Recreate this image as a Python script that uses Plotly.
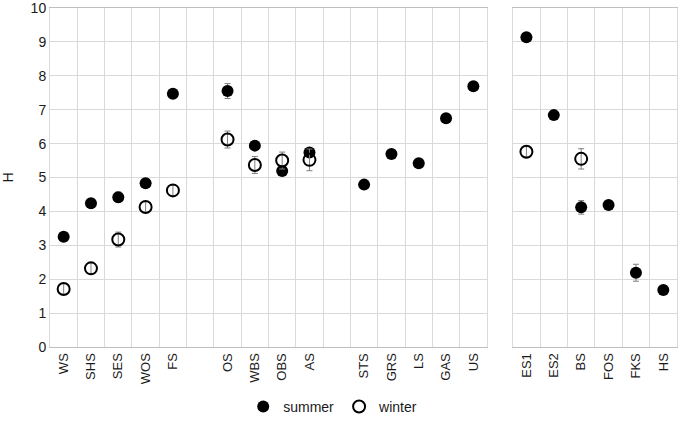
import plotly.graph_objects as go

# left panel sites (blank slots keep the gaps between groups)
left_sites = ["WS", "SHS", "SES", "WOS", "FS", " ", "OS", "WBS", "OBS", "AS", "  ",
              "STS", "GRS", "LS", "GAS", "US"]
left_summer = [3.25, 4.24, 4.42, 4.83, 7.47, None, 7.55, 5.94, 5.19, 5.74, None,
               4.79, 5.69, 5.42, 6.75, 7.69]
left_summer_err = [0.1, 0.12, 0.15, 0.12, 0.1, None, 0.22, 0.1, 0.1, 0.1, None,
                   0.1, 0.1, 0.1, 0.1, 0.1]
left_winter = [1.71, 2.32, 3.17, 4.13, 4.62, None, 6.12, 5.37, 5.5, 5.52, None,
               None, None, None, None, None]
left_winter_err = [0.15, 0.15, 0.22, 0.15, 0.15, None, 0.25, 0.25, 0.25, 0.32, None,
                   None, None, None, None, None]

# right panel sites
right_sites = ["ES1", "ES2", "BS", "FOS", "FKS", "HS"]
right_summer = [9.14, 6.84, 4.12, 4.19, 2.19, 1.68]
right_summer_err = [0.1, 0.1, 0.2, 0.1, 0.25, 0.1]
right_winter = [5.76, None, 5.55, None, None, None]
right_winter_err = [0.15, None, 0.3, None, None, None]

font = "Liberation Sans, Arial, sans-serif"
grid = "#d9d9d9"
err_col = "#7f7f7f"


def err(vals):
    return dict(type="data", array=vals, color=err_col, thickness=1, width=3)


summer_marker = dict(symbol="circle", size=12, color="black")
winter_marker = dict(symbol="circle-open", size=12, color="black", line=dict(width=2))

fig = go.Figure()
fig.add_trace(go.Scatter(x=left_sites, y=left_summer, error_y=err(left_summer_err),
                         mode="markers", marker=summer_marker, name="summer",
                         xaxis="x", yaxis="y"))
fig.add_trace(go.Scatter(x=left_sites, y=left_winter, error_y=err(left_winter_err),
                         mode="markers", marker=winter_marker, name="winter",
                         xaxis="x", yaxis="y"))
fig.add_trace(go.Scatter(x=right_sites, y=right_summer, error_y=err(right_summer_err),
                         mode="markers", marker=summer_marker, showlegend=False,
                         xaxis="x2", yaxis="y2"))
fig.add_trace(go.Scatter(x=right_sites, y=right_winter, error_y=err(right_winter_err),
                         mode="markers", marker=winter_marker, showlegend=False,
                         xaxis="x2", yaxis="y2"))

xcommon = dict(type="category", tickson="boundaries", showgrid=True, gridcolor=grid,
               gridwidth=1, showline=True, linecolor="#bfbfbf", mirror=True,
               ticks="", tickangle=-90, tickfont=dict(size=13, color="#1a1a1a"),
               automargin=False)
ycommon = dict(range=[0, 10], dtick=1, showgrid=True,
               gridcolor=grid, gridwidth=1, zeroline=False, showline=True,
               linecolor=grid, mirror=True, ticks="", automargin=False,
               ticklabeloverflow="allow")

fig.update_layout(
    width=680, height=426,
    margin=dict(l=50, r=3, t=8, b=79, autoexpand=False),
    plot_bgcolor="white", paper_bgcolor="white",
    font=dict(family=font, size=14, color="#1a1a1a"),
    xaxis=dict(xcommon, domain=[0, 0.697], categoryorder="array",
               categoryarray=left_sites, range=[-0.5, len(left_sites) - 0.5]),
    xaxis2=dict(xcommon, domain=[0.738, 1], categoryorder="array",
                categoryarray=right_sites, range=[-0.5, len(right_sites) - 0.5]),
    yaxis=dict(ycommon, anchor="x", tickfont=dict(size=14, color="#1a1a1a"),
               title=dict(text="H", standoff=15, font=dict(size=14))),
    yaxis2=dict(ycommon, anchor="x2", showticklabels=False),
    showlegend=True,
    legend=dict(orientation="h", xref="container", yref="container", x=0.49,
                xanchor="center", y=0.045, yanchor="middle", font=dict(size=14),
                itemwidth=30, tracegroupgap=0),
)

fig.write_html("out.html", config={"displayModeBar": False},
               post_script="document.body.style.margin='0';")
